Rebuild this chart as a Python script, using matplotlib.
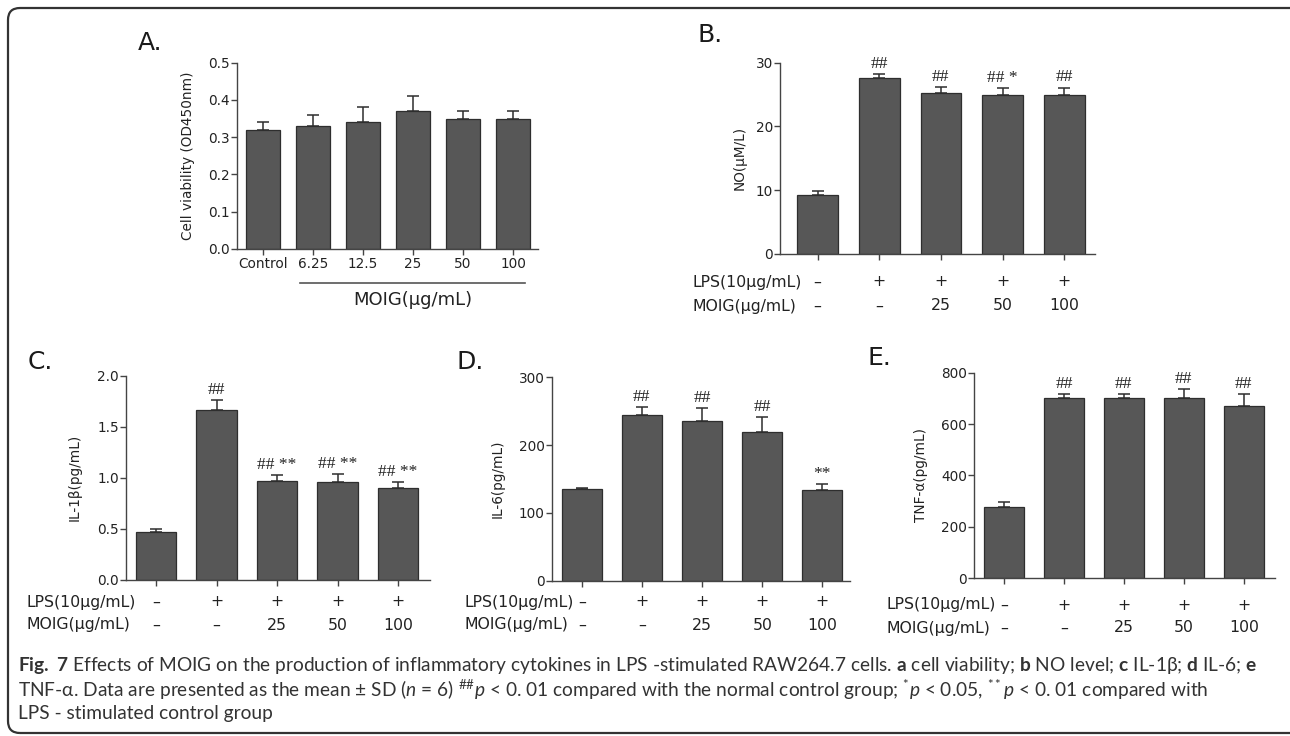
import numpy as np
import matplotlib.pyplot as plt
from matplotlib.patches import FancyBboxPatch

plt.rcParams['font.family'] = ['DejaVu Sans']
plt.rcParams['mathtext.fontset'] = 'custom'
plt.rcParams['mathtext.rm'] = 'Lato'
plt.rcParams['mathtext.it'] = 'Lato:italic'
plt.rcParams['mathtext.bf'] = 'Lato:bold'

W, H = 1290, 736

# Panel A - cell viability
a_groups = ['Control', '6.25', '12.5', '25', '50', '100']
a_means = [0.32, 0.33, 0.34, 0.37, 0.35, 0.35]
a_err = [0.02, 0.03, 0.04, 0.04, 0.02, 0.02]

# treatment rows shared by B-E
lps_row = ['–', '+', '+', '+', '+']
moig_row = ['–', '–', '25', '50', '100']

# Panel B - NO
no_means = [9.3, 27.6, 25.3, 25.0, 25.0]
no_err = [0.6, 0.6, 0.9, 1.0, 1.1]
no_marks = ['', '##', '##', '## *', '##']

# Panel C - IL-1b
il1b_means = [0.47, 1.66, 0.97, 0.96, 0.90]
il1b_err = [0.03, 0.10, 0.06, 0.08, 0.06]
il1b_marks = ['', '##', '## **', '## **', '## **']

# Panel D - IL-6
il6_means = [135, 245, 235, 220, 134]
il6_err = [1, 11, 19, 22, 9]
il6_marks = ['', '##', '##', '##', '**']

# Panel E - TNF-a
tnf_means = [278, 703, 703, 703, 670]
tnf_err = [17, 15, 14, 35, 48]
tnf_marks = ['', '##', '##', '##', '##']

BAR = '#575757'
EDGE = '#2e2e2e'
AXC = '#444444'
TXT = '#222222'

fig = plt.figure(figsize=(W / 100, H / 100), dpi=100)


def px_box(left, top, right, bottom):
    return [left / W, 1 - bottom / H, (right - left) / W, (bottom - top) / H]


def panel(rect, means, err, width, xlim, ylim, yticks, ticklabels, ylabel, ylab_x):
    ax = fig.add_axes(px_box(*rect))
    x = np.arange(len(means))
    ax.bar(x, means, width, color=BAR, edgecolor=EDGE, linewidth=0.9, zorder=2)
    ax.errorbar(x, means, yerr=[np.zeros(len(err)), err], fmt='none', ecolor=EDGE,
                elinewidth=1.1, capsize=4.5, capthick=1.1, zorder=3)
    ax.set_xlim(*xlim)
    ax.set_ylim(*ylim)
    ax.set_yticks(yticks)
    ax.set_yticklabels(ticklabels, fontsize=9.8)
    ax.set_xticks(x)
    ax.set_xticklabels([])
    for s in ['top', 'right']:
        ax.spines[s].set_visible(False)
    for s in ['left', 'bottom']:
        ax.spines[s].set_color(AXC)
        ax.spines[s].set_linewidth(1.0)
    ax.tick_params(colors=AXC, labelcolor=TXT, length=4, width=1.0, pad=1)
    ax.set_ylabel(ylabel, fontsize=9.8, color=TXT)
    ax.yaxis.set_label_coords((ylab_x - rect[0]) / (rect[2] - rect[0]), 0.5)
    ax.patch.set_alpha(0)
    return ax


def marks(ax, means, err, labels):
    for i, (m, e, s) in enumerate(zip(means, err, labels)):
        if s:
            ax.annotate(s, (i, m + e), xytext=(0, 1.5), textcoords='offset points',
                        ha='center', va='bottom', fontsize=12.5,
                        family='Liberation Serif', color=TXT)


def rows(ax, rect, lps_y, moig_y, head_x):
    top, bottom = rect[1], rect[3]
    h = bottom - top
    tr = ax.get_xaxis_transform()
    for i, (l, m) in enumerate(zip(lps_row, moig_row)):
        ax.text(i, (bottom - lps_y) / h, l, transform=tr, ha='center', va='center',
                fontsize=11.3, color=TXT)
        ax.text(i, (bottom - moig_y) / h, m, transform=tr, ha='center', va='center',
                fontsize=11.3, color=TXT)
    fig.text(head_x / W, 1 - lps_y / H, 'LPS(10μg/mL)', ha='left', va='center',
             fontsize=11.3, color=TXT)
    fig.text(head_x / W, 1 - moig_y / H, 'MOIG(μg/mL)', ha='left', va='center',
             fontsize=11.3, color=TXT)


def letter(x, y, s):
    fig.text(x / W, 1 - y / H, s, ha='left', va='center', fontsize=18, color='#1a1a1a')


# ---- A ----
rect_a = (237, 62.7, 538, 249)
ax_a = panel(rect_a, a_means, a_err, 0.68, (-0.52, 5.5), (0, 0.5),
             np.arange(0, 0.51, 0.1), ['0.0', '0.1', '0.2', '0.3', '0.4', '0.5'],
             'Cell viability (OD450nm)', 195)
ax_a.set_xticklabels(a_groups, fontsize=9.8)
ax_a.tick_params(axis='x', pad=2)
tr_a = ax_a.get_xaxis_transform()
ax_a.plot([0.74, 5.24], [-0.183, -0.183], transform=tr_a, color='#555555', lw=1.2, clip_on=False)
ax_a.text(3, -0.275, 'MOIG(μg/mL)', transform=tr_a, ha='center', va='center',
          fontsize=13, color=TXT)
letter(138, 43, 'A.')

# ---- B ----
rect_b = (780, 62.7, 1095, 254)
ax_b = panel(rect_b, no_means, no_err, 0.66, (-0.61, 4.5), (0, 30),
             [0, 10, 20, 30], ['0', '10', '20', '30'], 'NO(μM/L)', 747)
marks(ax_b, no_means, no_err, no_marks)
rows(ax_b, rect_b, 282, 306, 693)
letter(698, 35, 'B.')

# ---- C ----
rect_c = (126, 375.7, 430, 579.7)
ax_c = panel(rect_c, il1b_means, il1b_err, 0.67, (-0.5, 4.53), (0, 2.0),
             [0, 0.5, 1.0, 1.5, 2.0], ['0.0', '0.5', '1.0', '1.5', '2.0'],
             'IL-1β(pg/mL)', 82)
marks(ax_c, il1b_means, il1b_err, il1b_marks)
rows(ax_c, rect_c, 602, 625, 26)
letter(28, 362, 'C.')

# ---- D ----
rect_d = (551.7, 377.3, 850, 580.7)
ax_d = panel(rect_d, il6_means, il6_err, 0.66, (-0.5, 4.46), (0, 300),
             [0, 100, 200, 300], ['0', '100', '200', '300'], 'IL-6(pg/mL)', 505)
marks(ax_d, il6_means, il6_err, il6_marks)
rows(ax_d, rect_d, 602, 625, 465)
letter(457, 362, 'D.')

# ---- E ----
rect_e = (974, 372.7, 1275, 578)
ax_e = panel(rect_e, tnf_means, tnf_err, 0.67, (-0.5, 4.52), (0, 800),
             [0, 200, 400, 600, 800], ['0', '200', '400', '600', '800'],
             'TNF-α(pg/mL)', 928)
marks(ax_e, tnf_means, tnf_err, tnf_marks)
rows(ax_e, rect_e, 605, 628, 887)
letter(868, 358, 'E.')

# ---- caption ----
cap1 = (r"$\mathbf{Fig.\ 7}$ Effects of MOIG on the production of inflammatory cytokines in "
        r"LPS -stimulated RAW264.7 cells. $\mathbf{a}$ cell viability; $\mathbf{b}$ NO level; "
        r"$\mathbf{c}$ IL-1β; $\mathbf{d}$ IL-6; $\mathbf{e}$")
cap2 = (r"TNF-α. Data are presented as the mean ± SD ($\mathit{n}$ = 6) $^{\#\#}\mathit{p}$ < 0. 01 "
        r"compared with the normal control group; $^{*}\mathit{p}$ < 0.05, $^{**}\mathit{p}$ < 0. 01 compared with")
cap3 = "LPS - stimulated control group"
for y, s in [(665, cap1), (690, cap2), (714, cap3)]:
    fig.text(18 / W, 1 - y / H, s, ha='left', va='center', fontsize=13.8,
             family=['Lato', 'DejaVu Sans'], color='#333333')

# rounded frame around the figure
frame = FancyBboxPatch((8, 3), W + 40, H - 11, boxstyle='round,pad=0,rounding_size=12',
                       transform=None, facecolor='none', edgecolor='#333333', linewidth=1.6)
fig.add_artist(frame)

fig.savefig('out.png', dpi=100)
